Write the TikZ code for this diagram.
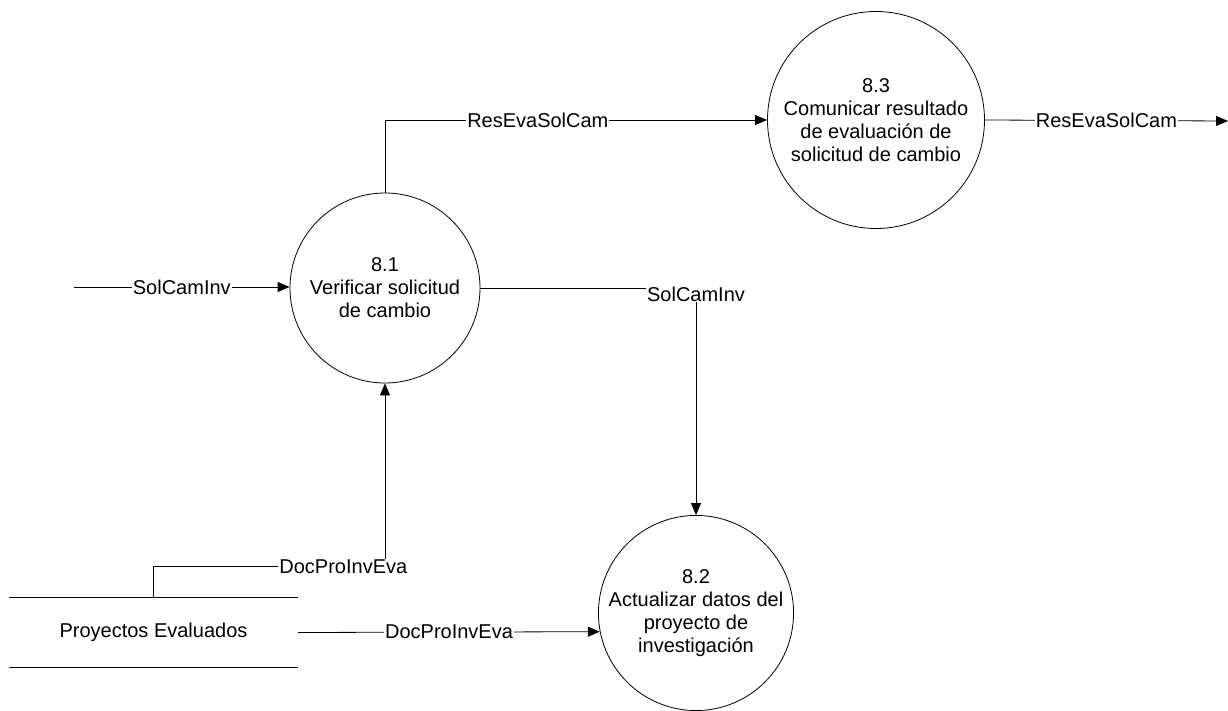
\documentclass[tikz,border=0pt]{standalone}
\usepackage{fontspec}
\setmainfont{Liberation Sans}
\usetikzlibrary{arrows.meta}

\begin{document}
\begin{tikzpicture}[x=1pt,y=-1pt,
  font=\fontsize{20}{23}\selectfont,
  proc/.style={circle,draw,line width=0.8pt,align=center,inner sep=0pt},
  flow/.style={line width=0.8pt,-{Triangle[length=12pt,width=10pt]}},
  lbl/.style={fill=white,inner sep=1pt}]
\useasboundingbox (0,0) rectangle (1228,711);

% procesos
\node[proc,minimum size=190pt] (p81) at (385,288) {8.1\\Verificar solicitud\\de cambio};
\node[proc,minimum size=217pt] (p83) at (876,120) {8.3\\Comunicar resultado\\de evaluaci\'on de\\solicitud de cambio};
\node[proc,minimum size=192pt] (p82) at (696,613) {8.2\\Actualizar datos del\\proyecto de\\investigaci\'on};

% almacen
\node[minimum width=289pt,minimum height=69pt,inner sep=0pt] (pe) at (153.5,632.5) {Proyectos Evaluados};
\draw[line width=0.8pt] (pe.north west) -- (pe.north east) (pe.south west) -- (pe.south east);

% flujos
\coordinate (in) at (74,287);
\coordinate (out) at (1228,121);
\draw[flow] (in) -- node[lbl] {SolCamInv} (p81.west |- in);
\draw[flow] (p81.north) |- node[lbl,pos=0.7] {ResEvaSolCam} (p83.west);
\draw[flow] (p83.east) -- node[lbl] {ResEvaSolCam} (out);
\draw[flow] (p81.east) -| node[lbl,pos=0.5,yshift=-6pt] {SolCamInv} (p82.north);
\draw[flow] (pe.north) -- ++(0,-31) -| node[lbl,pos=0.41] {DocProInvEva} (p81.south);
\draw[flow] (pe.east) -- node[lbl] {DocProInvEva} (p82.191.4);

\end{tikzpicture}
\end{document}
